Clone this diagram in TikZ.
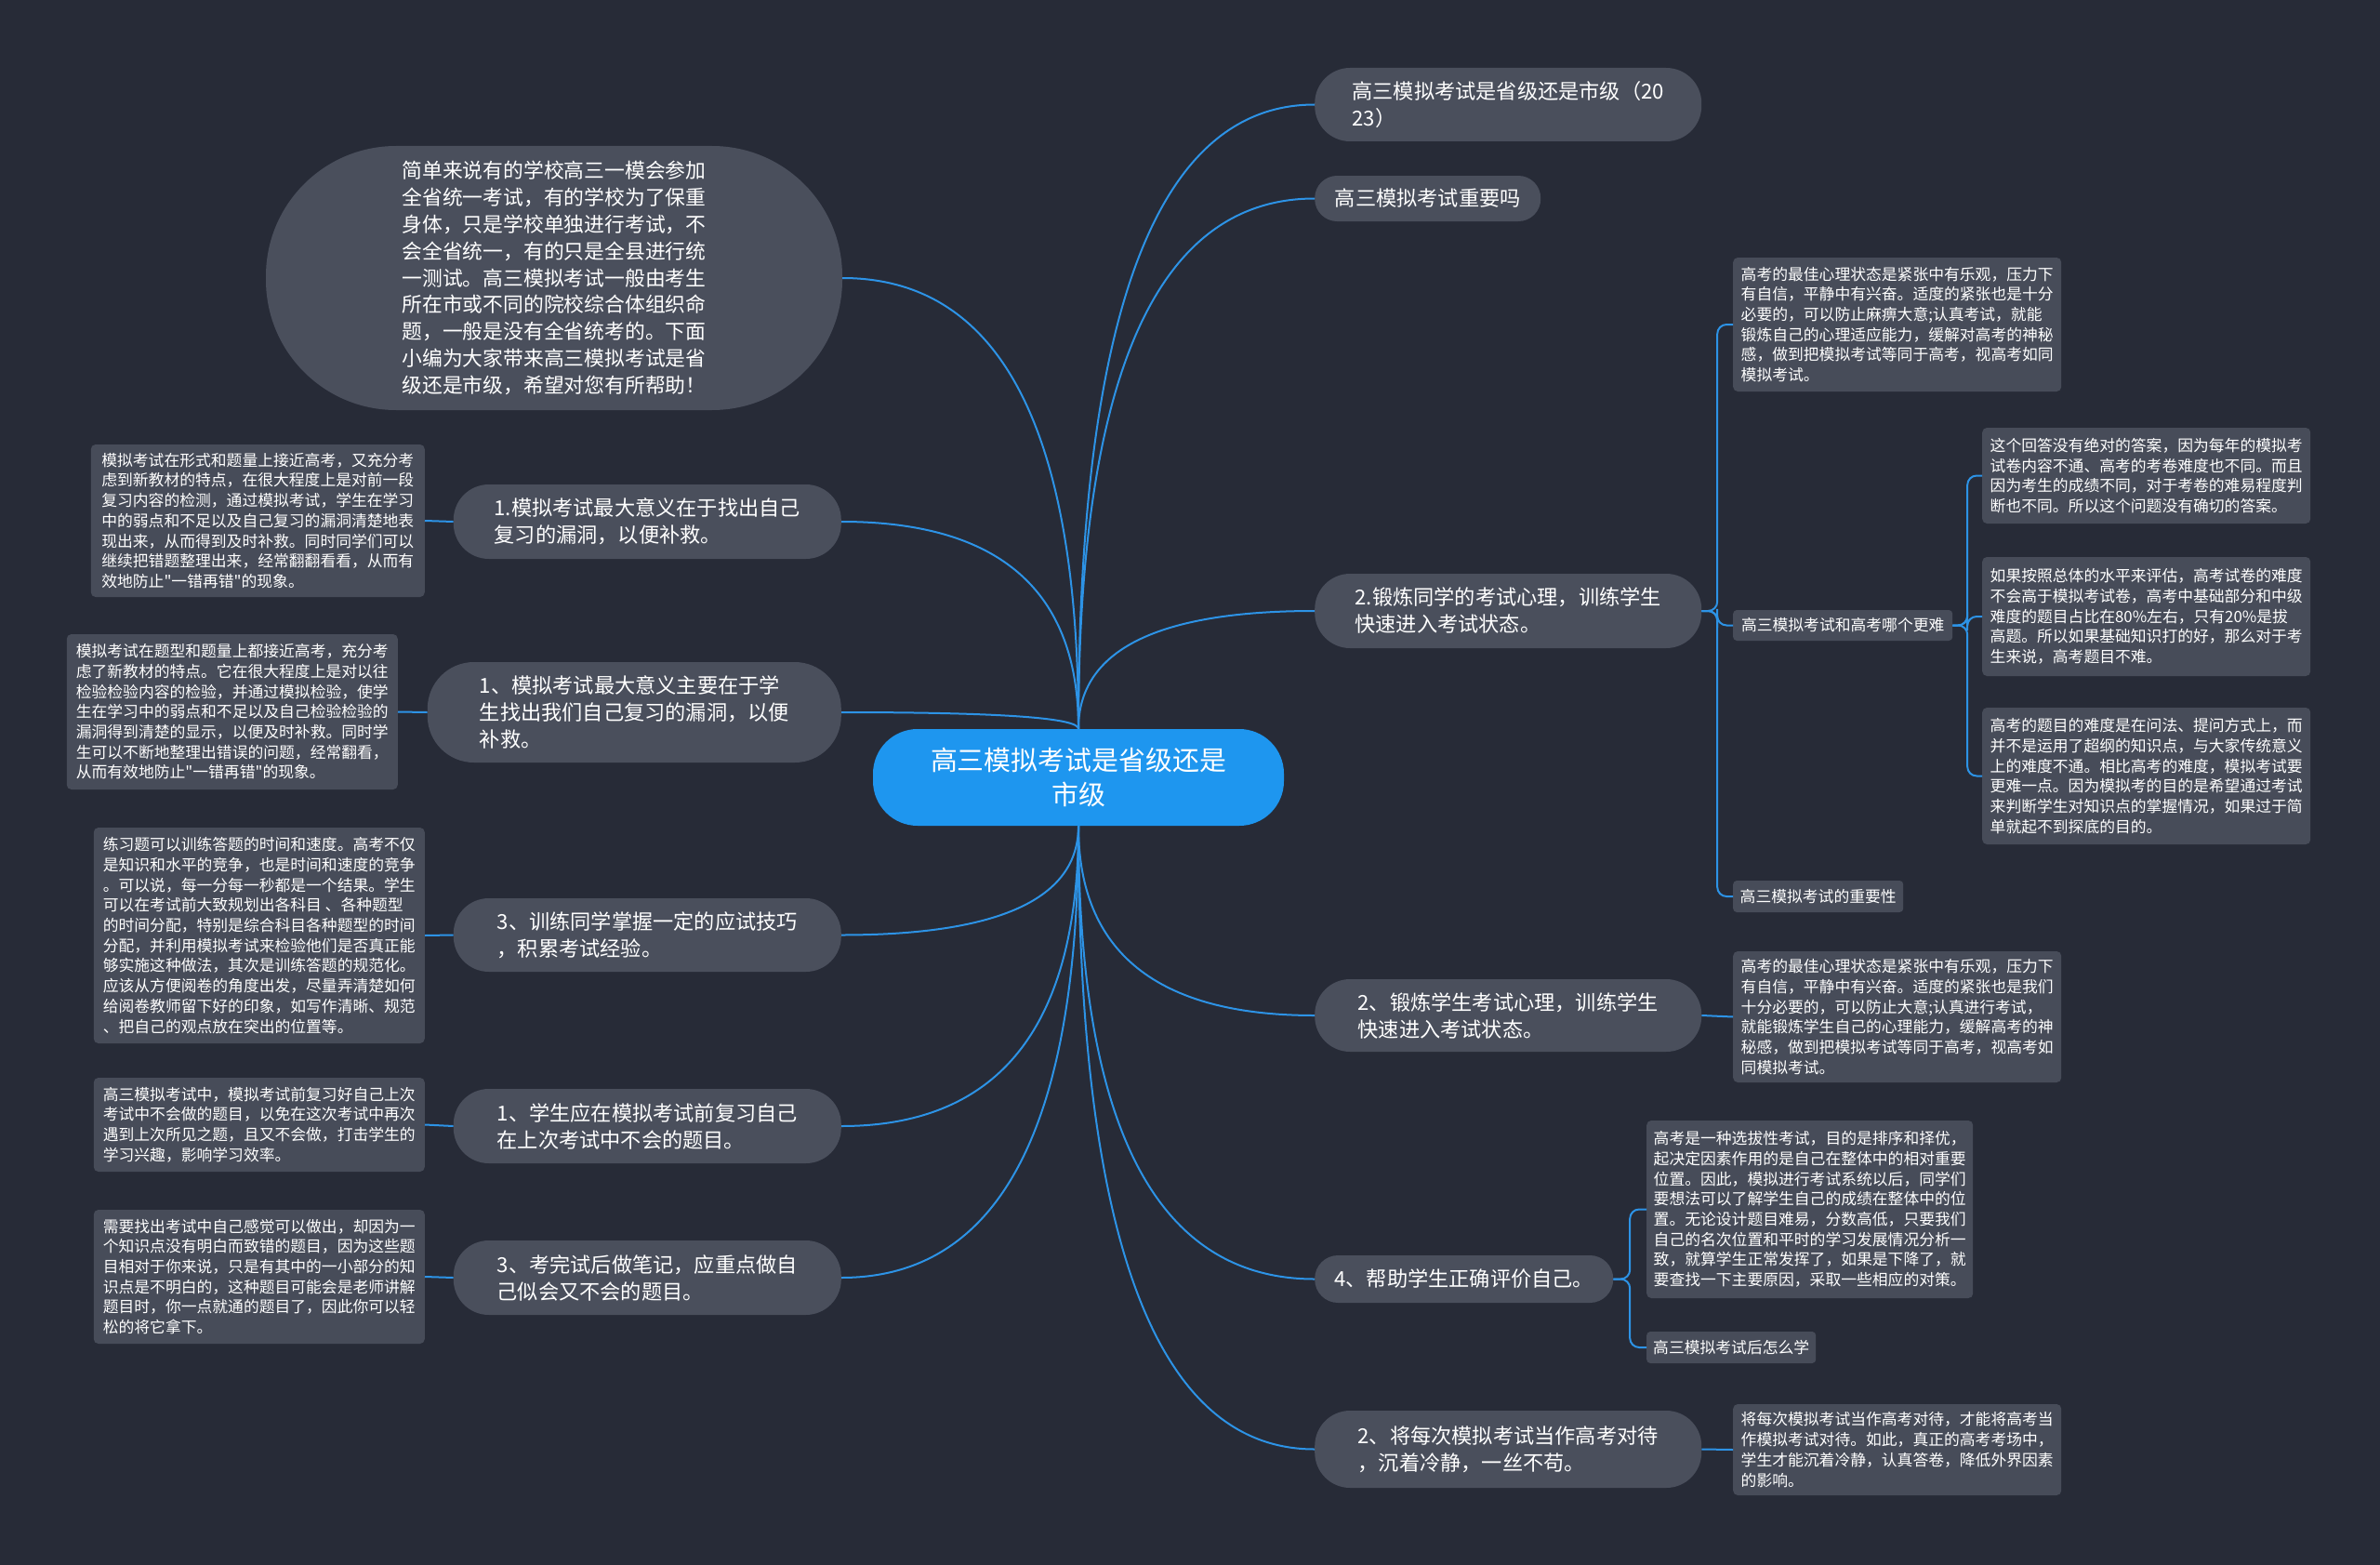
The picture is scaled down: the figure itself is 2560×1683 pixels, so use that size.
\documentclass[tikz,border=0pt]{standalone}
\usepackage{fontspec}
\setmainfont{Noto Sans CJK SC}[Ligatures=TeXOff]
\usetikzlibrary{calc}
\definecolor{bg}{HTML}{272B37}
\definecolor{nodefill}{HTML}{4A4F5C}
\definecolor{leaffill}{HTML}{474C59}
\definecolor{centerfill}{HTML}{1E96EF}
\definecolor{linec}{HTML}{2D93E6}
\tikzset{
  mainnode/.style={fill=nodefill, text=white, rounded corners=38pt, align=left, inner sep=0pt, font=\fontsize{22.2}{29}\selectfont},
  leafnode/.style={fill=leaffill, text=white, rounded corners=5pt, align=left, inner sep=0pt, font=\fontsize{16.8}{21.7}\selectfont},
  labelnode/.style={fill=leaffill, text=white, rounded corners=4pt, inner sep=0pt, font=\fontsize{16.8}{20}\selectfont},
  conn/.style={draw=linec, line width=2pt},
}
\newcommand\fanline[2]{\draw[conn] (#1) .. controls ($(#1)!0.667!(#1 |- #2)$) and ($(#2)!0.667!(#1 |- #2)$) .. (#2);}
\newcommand\brkline[2]{\draw[conn, rounded corners=10pt] (#1) -| ($(#1)!0.5!(#2)$) |- (#2);}
\begin{document}
\begin{tikzpicture}[x=1pt,y=-1pt]
\fill[bg] (0,0) rectangle (2560,1683);
\useasboundingbox (0,0) rectangle (2560,1683);

% center
\node[fill=centerfill, text=white, rounded corners=48pt, minimum width=442pt, minimum height=104pt, align=center, inner sep=0pt, font=\fontsize{28.9}{37.5}\selectfont] (c) at (1160,836) {高三模拟考试是省级还是\\市级};

% right main branches
\node[mainnode, anchor=west, minimum width=416pt, minimum height=79pt] (R1) at (1414,112.5) {高三模拟考试是省级还是市级（20\\23）};
\node[mainnode, anchor=west, minimum width=243pt, minimum height=49pt, rounded corners=24pt] (R2) at (1414,213.5) {高三模拟考试重要吗};
\node[mainnode, anchor=west, minimum width=416pt, minimum height=80pt] (R3) at (1414,657) {2.锻炼同学的考试心理，训练学生\\快速进入考试状态。};
\node[mainnode, anchor=west, minimum width=416pt, minimum height=78pt] (R4) at (1414,1092) {2、锻炼学生考试心理，训练学生\\快速进入考试状态。};
\node[mainnode, anchor=west, minimum width=321pt, minimum height=51pt, rounded corners=25pt] (R5) at (1414,1375.5) {4、帮助学生正确评价自己。};
\node[mainnode, anchor=west, minimum width=416pt, minimum height=83pt] (R6) at (1414,1558.5) {2、将每次模拟考试当作高考对待\\，沉着冷静，一丝不苟。};

% left main branches
\node[mainnode, align=left, minimum width=620pt, minimum height=284pt, rounded corners=140pt, font=\fontsize{21.8}{28.9}\selectfont] (L0) at (596,299) {简单来说有的学校高三一模会参加\\全省统一考试，有的学校为了保重\\身体，只是学校单独进行考试，不\\会全省统一，有的只是全县进行统\\一测试。高三模拟考试一般由考生\\所在市或不同的院校综合体组织命\\题，一般是没有全省统考的。下面\\小编为大家带来高三模拟考试是省\\级还是市级，希望对您有所帮助！};
\node[mainnode, anchor=east, minimum width=417pt, minimum height=80pt] (L1) at (905,561) {1.模拟考试最大意义在于找出自己\\复习的漏洞，以便补救。};
\node[mainnode, anchor=east, minimum width=445pt, minimum height=108pt, rounded corners=50pt] (L2) at (905,766) {1、模拟考试最大意义主要在于学\\生找出我们自己复习的漏洞，以便\\补救。};
\node[mainnode, anchor=east, minimum width=417pt, minimum height=79pt] (L3) at (905,1005.5) {3、训练同学掌握一定的应试技巧\\，积累考试经验。};
\node[mainnode, anchor=east, minimum width=417pt, minimum height=80pt] (L4) at (905,1211) {1、学生应在模拟考试前复习自己\\在上次考试中不会的题目。};
\node[mainnode, anchor=east, minimum width=417pt, minimum height=80pt] (L5) at (905,1374) {3、考完试后做笔记，应重点做自\\己似会又不会的题目。};

% left leaves
\node[leafnode, anchor=east, minimum width=359pt, minimum height=164pt] (LL1) at (457,560) {模拟考试在形式和题量上接近高考，又充分考\\虑到新教材的特点，在很大程度上是对前一段\\复习内容的检测，通过模拟考试，学生在学习\\中的弱点和不足以及自己复习的漏洞清楚地表\\现出来，从而得到及时补救。同时同学们可以\\继续把错题整理出来，经常翻翻看看，从而有\\效地防止"一错再错"的现象。};
\node[leafnode, anchor=east, minimum width=356pt, minimum height=167pt] (LL2) at (428,765.5) {模拟考试在题型和题量上都接近高考，充分考\\虑了新教材的特点。它在很大程度上是对以往\\检验检验内容的检验，并通过模拟检验，使学\\生在学习中的弱点和不足以及自己检验检验的\\漏洞得到清楚的显示，以便及时补救。同时学\\生可以不断地整理出错误的问题，经常翻看，\\从而有效地防止"一错再错"的现象。};
\node[leafnode, anchor=east, minimum width=356pt, minimum height=232pt] (LL3) at (457,1006) {练习题可以训练答题的时间和速度。高考不仅\\是知识和水平的竞争，也是时间和速度的竞争\\。可以说，每一分每一秒都是一个结果。学生\\可以在考试前大致规划出各科目 、各种题型\\的时间分配，特别是综合科目各种题型的时间\\分配，并利用模拟考试来检验他们是否真正能\\够实施这种做法，其次是训练答题的规范化。\\应该从方便阅卷的角度出发，尽量弄清楚如何\\给阅卷教师留下好的印象，如写作清晰、规范\\、把自己的观点放在突出的位置等。};
\node[leafnode, anchor=east, minimum width=356pt, minimum height=101pt] (LL4) at (457,1209.5) {高三模拟考试中，模拟考试前复习好自己上次\\考试中不会做的题目，以免在这次考试中再次\\遇到上次所见之题，且又不会做，打击学生的\\学习兴趣，影响学习效率。};
\node[leafnode, anchor=east, minimum width=356pt, minimum height=144pt] (LL5) at (457,1373) {需要找出考试中自己感觉可以做出，却因为一\\个知识点没有明白而致错的题目，因为这些题\\目相对于你来说，只是有其中的一小部分的知\\识点是不明白的，这种题目可能会是老师讲解\\题目时，你一点就通的题目了，因此你可以轻\\松的将它拿下。};

% right leaves
\node[leafnode, anchor=west, minimum width=353pt, minimum height=144pt] (RL3a) at (1864,349) {高考的最佳心理状态是紧张中有乐观，压力下\\有自信，平静中有兴奋。适度的紧张也是十分\\必要的，可以防止麻痹大意;认真考试，就能\\锻炼自己的心理适应能力，缓解对高考的神秘\\感，做到把模拟考试等同于高考，视高考如同\\模拟考试。};
\node[labelnode, anchor=west, minimum width=236pt, minimum height=33pt] (RL3b) at (1864,672.5) {高三模拟考试和高考哪个更难};
\node[labelnode, anchor=west, minimum width=183pt, minimum height=34pt] (RL3c) at (1864,964) {高三模拟考试的重要性};
\node[leafnode, anchor=west, minimum width=353pt, minimum height=103pt] (RL3b1) at (2132,511.5) {这个回答没有绝对的答案，因为每年的模拟考\\试卷内容不通、高考的考卷难度也不同。而且\\因为考生的成绩不同，对于考卷的难易程度判\\断也不同。所以这个问题没有确切的答案。};
\node[leafnode, anchor=west, minimum width=353pt, minimum height=128pt] (RL3b2) at (2132,663) {如果按照总体的水平来评估，高考试卷的难度\\不会高于模拟考试卷，高考中基础部分和中级\\难度的题目占比在80\%左右，只有20\%是拔\\高题。所以如果基础知识打的好，那么对于考\\生来说，高考题目不难。};
\node[leafnode, anchor=west, minimum width=353pt, minimum height=147pt] (RL3b3) at (2132,834.5) {高考的题目的难度是在问法、提问方式上，而\\并不是运用了超纲的知识点，与大家传统意义\\上的难度不通。相比高考的难度，模拟考试要\\更难一点。因为模拟考的目的是希望通过考试\\来判断学生对知识点的掌握情况，如果过于简\\单就起不到探底的目的。};
\node[leafnode, anchor=west, minimum width=353pt, minimum height=141pt] (RL4) at (1864,1093.5) {高考的最佳心理状态是紧张中有乐观，压力下\\有自信，平静中有兴奋。适度的紧张也是我们\\十分必要的，可以防止大意;认真进行考试，\\就能锻炼学生自己的心理能力，缓解高考的神\\秘感，做到把模拟考试等同于高考，视高考如\\同模拟考试。};
\node[leafnode, anchor=west, minimum width=351pt, minimum height=191pt] (RL5a) at (1771,1300.5) {高考是一种选拔性考试，目的是排序和择优，\\起决定因素作用的是自己在整体中的相对重要\\位置。因此，模拟进行考试系统以后，同学们\\要想法可以了解学生自己的成绩在整体中的位\\置。无论设计题目难易，分数高低，只要我们\\自己的名次位置和平时的学习发展情况分析一\\致，就算学生正常发挥了，如果是下降了，就\\要查找一下主要原因，采取一些相应的对策。};
\node[labelnode, anchor=west, minimum width=182pt, minimum height=34pt] (RL5b) at (1771,1449) {高三模拟考试后怎么学};
\node[leafnode, anchor=west, minimum width=353pt, minimum height=98pt] (RL6) at (1864,1559) {将每次模拟考试当作高考对待，才能将高考当\\作模拟考试对待。如此，真正的高考考场中，\\学生才能沉着冷静，认真答卷，降低外界因素\\的影响。};

% fan connectors from center
\fanline{c.north}{R1.west}
\fanline{c.north}{R2.west}
\fanline{c.north}{R3.west}
\fanline{c.south}{R4.west}
\fanline{c.south}{R5.west}
\fanline{c.south}{R6.west}
\fanline{c.north}{L0.east}
\fanline{c.north}{L1.east}
\fanline{c.north}{L2.east}
\fanline{c.south}{L3.east}
\fanline{c.south}{L4.east}
\fanline{c.south}{L5.east}

% branch to leaf connectors
\draw[conn] (L1.west) -- (LL1.east);
\draw[conn] (L2.west) -- (LL2.east);
\draw[conn] (L3.west) -- (LL3.east);
\draw[conn] (L4.west) -- (LL4.east);
\draw[conn] (L5.west) -- (LL5.east);
\brkline{R3.east}{RL3a.west}
\brkline{R3.east}{RL3b.west}
\brkline{R3.east}{RL3c.west}
\brkline{RL3b.east}{RL3b1.west}
\brkline{RL3b.east}{RL3b2.west}
\brkline{RL3b.east}{RL3b3.west}
\draw[conn] (R4.east) -- (RL4.west);
\brkline{R5.east}{RL5a.west}
\brkline{R5.east}{RL5b.west}
\draw[conn] (R6.east) -- (RL6.west);
\end{tikzpicture}
\end{document}
